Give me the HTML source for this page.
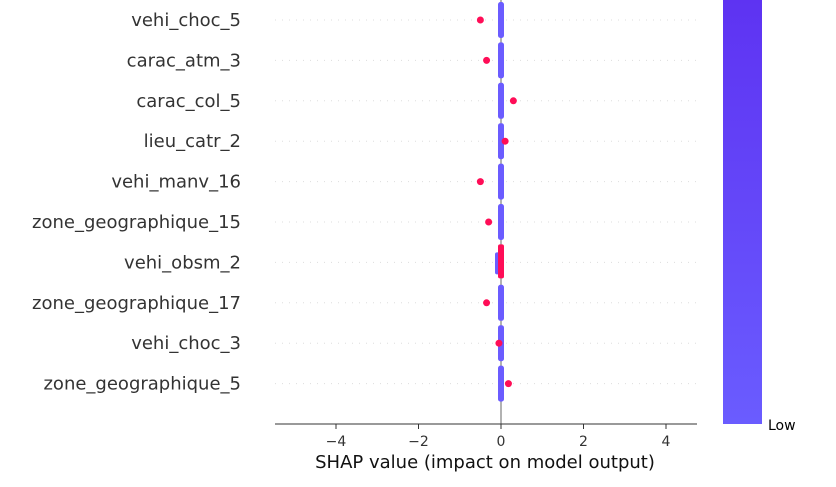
<!DOCTYPE html>
<html><head><meta charset="utf-8"><style>
body{margin:0;background:#fff;}
svg{display:block;font-family:"DejaVu Sans","Liberation Sans",sans-serif;}
</style></head><body>
<svg id="c" width="836" height="487">
<defs><linearGradient id="g" x1="0" y1="1" x2="0" y2="0"><stop offset="0" stop-color="#6a5cff"/><stop offset="1" stop-color="#5e33f2"/></linearGradient></defs>
<rect x="723" y="0" width="39" height="424" fill="url(#g)"/>
<text x="768" y="430" font-size="14">Low</text>
</svg>
<script>
const features=["vehi_choc_5","carac_atm_3","carac_col_5","lieu_catr_2","vehi_manv_16","zone_geographique_15","vehi_obsm_2","zone_geographique_17","vehi_choc_3","zone_geographique_5"];
const outlierValues=[-0.5,-0.35,0.3,0.1,-0.5,-0.3,0,-0.35,-0.05,0.18];
const ticks=[-4,-2,0,2,4];
const svg=document.getElementById('c');const NS='http://www.w3.org/2000/svg';
const X=v=>501+v*41.25;const Y=i=>20+i*40.4;
function mk(t,a){const e=document.createElementNS(NS,t);for(const k in a)e.setAttribute(k,a[k]);svg.appendChild(e);return e;}
let e=mk('line',{x1:X(0),x2:X(0),y1:0,y2:424,stroke:'#999',"stroke-width":1.5});


features.forEach((f,i)=>{
 const y=Y(i);
 e=mk('line',{x1:275,x2:697,y1:y,y2:y,stroke:'#ddd',"stroke-dasharray":"1 6"});
 
 
 e=mk('text',{x:241,y:y+6,"font-size":18,"text-anchor":"end",fill:'#333'});e.textContent=f;
 
 
 if(i===6){
  e=mk('rect',{x:X(0)-6,y:y-10,width:6,height:22,rx:2,fill:'#6b5cff'});
  
  
  e=mk('rect',{x:X(0)-3,y:y-18,width:6,height:34,rx:2,fill:'#ff0d57'});
  
  
 } else {
  e=mk('rect',{x:X(0)-3,y:y-18,width:6,height:36,rx:2.5,fill:'#6b5cff'});
  
  
  e=mk('circle',{cx:X(outlierValues[i]),cy:y,r:3.5,fill:'#ff0d57'});
  
  
 }
});
e=mk('line',{x1:275,x2:697,y1:424,y2:424,stroke:'#333',"stroke-width":1});


ticks.forEach(t=>{
 e=mk('line',{x1:X(t),x2:X(t),y1:424,y2:429,stroke:'#333'});
 
 
 e=mk('text',{x:X(t),y:446,"font-size":14,"text-anchor":"middle",fill:'#333'});e.textContent=(t<0?'\u2212'+(-t):t);
 
 
});
e=mk('text',{x:485,y:468,"font-size":18,"text-anchor":"middle",fill:'#111'});e.textContent='SHAP value (impact on model output)';


</script>
</body></html>
